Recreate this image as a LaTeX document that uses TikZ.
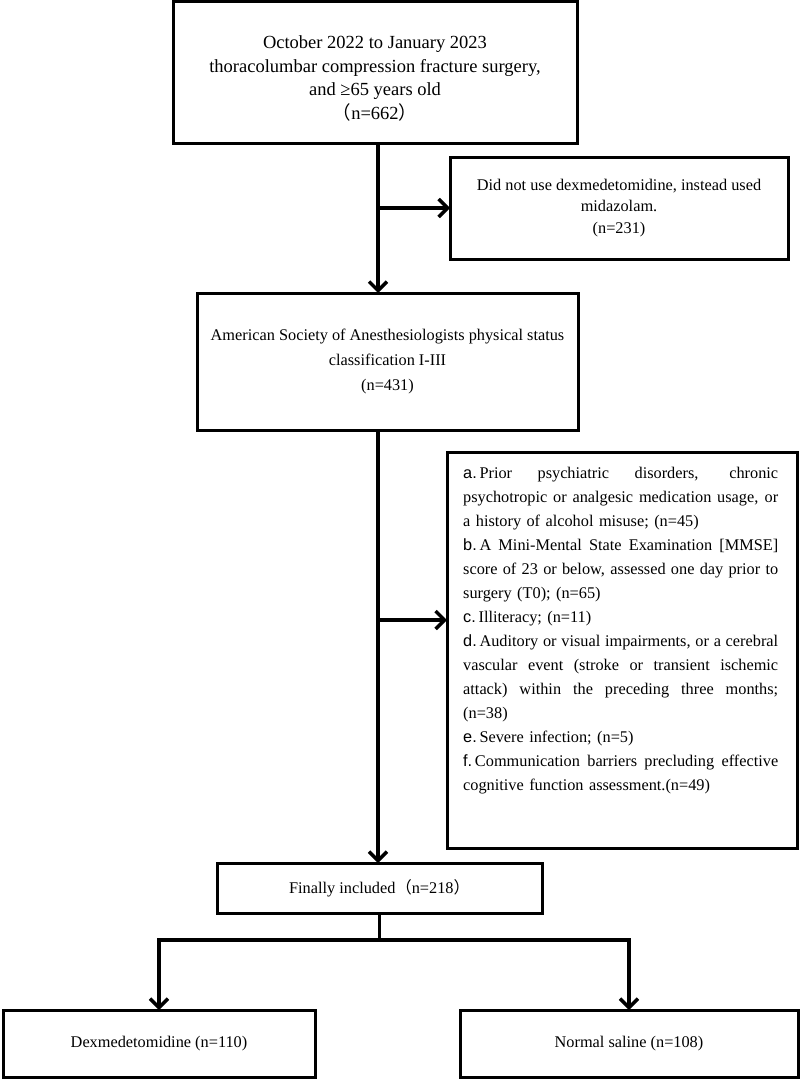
\documentclass[tikz,border=0pt]{standalone}
\usepackage{fontspec}
\setmainfont{Liberation Serif}
\newfontfamily\cjkf{Noto Sans CJK SC}
\newfontfamily\labf{Liberation Sans}
\usetikzlibrary{arrows.meta}
\newcommand{\lp}{{\cjkf （}}
\newcommand{\rp}{{\cjkf ）}}
\newcommand{\lab}[1]{{\labf #1}}
\newcommand{\jl}[1]{\leavevmode\hbox to 315pt{\spaceskip=0.25em plus 1fil\relax #1}}
\begin{document}
\begin{tikzpicture}[x=1pt,y=-1pt,
  box/.style={draw, line width=3pt, inner sep=2pt, outer sep=0pt, align=center, anchor=north west},
  arr/.style={line width=3.5pt, -{Straight Barb[length=9pt,width=18pt]}},
  ln/.style={line width=3.5pt},
  every node/.style={font=\fontsize{16.3}{24}\selectfont}]
\useasboundingbox (0,0) rectangle (800,1081);

\node[box, minimum width=404pt, minimum height=141pt] (top) at (173,2) {};
\node[align=center, font=\fontsize{18.5}{23.5}\selectfont, yshift=-6pt] (toptext) at (top.center)
  {October 2022 to January 2023\\thoracolumbar compression fracture surgery,\\and ≥65 years old\\\lp n=662\rp};
\node[box, font=\fontsize{16.3}{21.5}\selectfont, minimum width=338pt, minimum height=102pt] (side) at (450,157)
  {Did not use dexmedetomidine, instead used\\midazolam.\\(n=231)};
\node[box, font=\fontsize{16.3}{25}\selectfont, minimum width=381pt, minimum height=137pt] (asa) at (197,293)
  {American Society of Anesthesiologists physical status\\classification I-III\\(n=431)};
\node[box, minimum width=350pt, minimum height=396pt] (excl) at (447,452) {};
\node[anchor=north west, inner sep=0pt, text width=315pt, align=left] (exctext) at (463,467) {%
\jl{\lab{a.}\,Prior psychiatric disorders, chronic}\\
\jl{psychotropic or analgesic medication usage, or}\\
a history of alcohol misuse; (n=45)\\
\jl{\lab{b.}\,A Mini-Mental State Examination [MMSE]}\\
\jl{score of 23 or below, assessed one day prior to}\\
surgery (T0); (n=65)\\
\lab{c.}\,Illiteracy; (n=11)\\
\jl{\lab{d.}\,Auditory or visual impairments, or a cerebral}\\
\jl{vascular event (stroke or transient ischemic}\\
\jl{attack) within the preceding three months;}\\
(n=38)\\
\lab{e.}\,Severe infection; (n=5)\\
\jl{\lab{f.}\,Communication barriers precluding effective}\\
cognitive function assessment.(n=49)};
\node[box, minimum width=325pt, minimum height=50pt] (fin) at (217,863) {Finally included\lp n=218\rp};
\node[box, minimum width=312pt, minimum height=67pt] (dex) at (3,1010) {Dexmedetomidine (n=110)};
\node[box, minimum width=338pt, minimum height=67pt] (ns) at (460,1010) {Normal saline (n=108)};

\coordinate (trunk) at (378,0);
\path (excl.north west) ++(0,168) coordinate (exin);
\draw[arr] (top.south -| trunk) -- (asa.north -| trunk);
\draw[arr] (side.west -| trunk) -- (side.west);
\draw[arr] (asa.south -| trunk) -- (fin.north -| trunk);
\draw[arr] (exin -| trunk) -- (exin);
\draw[ln] (fin.south) -- ++(0,27) coordinate (split);
\draw[arr] (split) -| (dex.north);
\draw[arr] (split) -| (ns.north);
\end{tikzpicture}
\end{document}
